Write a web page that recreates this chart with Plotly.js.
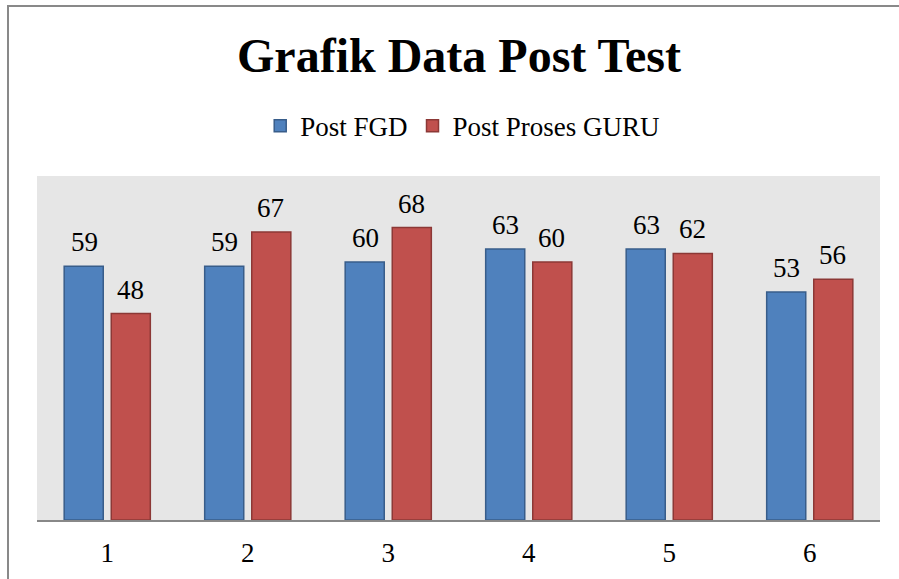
<!DOCTYPE html>
<html><head><meta charset="utf-8">
<script src="https://cdn.plot.ly/plotly-3.0.1.min.js"></script>
<style>
html,body{margin:0;padding:0;background:#fff;}
#wrap{position:relative;width:899px;height:579px;overflow:hidden;}
#chart{position:absolute;left:0;top:0;width:899px;height:579px;}
#frame{position:absolute;left:7px;top:5px;width:1000px;height:1000px;border:2px solid #898989;pointer-events:none;}
</style></head>
<body>
<div id="wrap"><div id="chart"></div><div id="frame"></div></div>
<script>
const categories = ['1','2','3','4','5','6'];
const postFGD = [59, 59, 60, 63, 63, 53];
const postGuru = [48, 67, 68, 60, 62, 56];
const seriesNames = ['Post FGD', 'Post Proses GURU'];

const font = 'Liberation Serif';
const traces = [
  {type:'bar', name:seriesNames[0], x:categories, y:postFGD,
   marker:{color:'#4F81BD', line:{color:'#385D8A', width:1.5}}, hoverinfo:'none'},
  {type:'bar', name:seriesNames[1], x:categories, y:postGuru,
   marker:{color:'#C0504D', line:{color:'#8C3836', width:1.5}}, hoverinfo:'none'}
];

// data labels placed above each bar, using the axis scale
const annotations = [];
const groupOffset = 0.165;
[postFGD, postGuru].forEach((vals, s) => {
  vals.forEach((v, i) => {
    annotations.push({x: i + (s === 0 ? -groupOffset : groupOffset), y: v, xref:'x', yref:'y',
      text: String(v), showarrow:false, yanchor:'bottom', yshift:7,
      font:{family:font, size:27, color:'#000'}});
  });
});

const layout = {
  width:899, height:579,
  margin:{l:37, r:19, t:176, b:59},
  paper_bgcolor:'#fff', plot_bgcolor:'#E6E6E6',
  font:{family:font, size:27, color:'#000'},
  title:{text:'<b>Grafik Data Post Test</b>', font:{family:font, size:48, color:'#000'},
    x:459/899, xref:'container', y:1-55/579, yref:'container', yanchor:'middle'},
  barmode:'group', bargap:0.33, bargroupgap:0.17,
  showlegend:true,
  legend:{orientation:'h', x:0.505, xanchor:'center', y:1.145, yanchor:'middle',
    font:{family:font, size:27, color:'#000'}, itemwidth:30, traceorder:'normal'},
  xaxis:{type:'category', showline:true, linecolor:'#888', linewidth:2, ticks:'',
    ticklabelstandoff:8,
    tickfont:{family:font, size:27, color:'#000'}, showgrid:false, zeroline:false, fixedrange:true},
  yaxis:{range:[0,80], showticklabels:false, showgrid:false, zeroline:false, showline:false, ticks:'', fixedrange:true},
  annotations: annotations
};
Plotly.newPlot('chart', traces, layout, {staticPlot:true});
</script>
</body></html>
